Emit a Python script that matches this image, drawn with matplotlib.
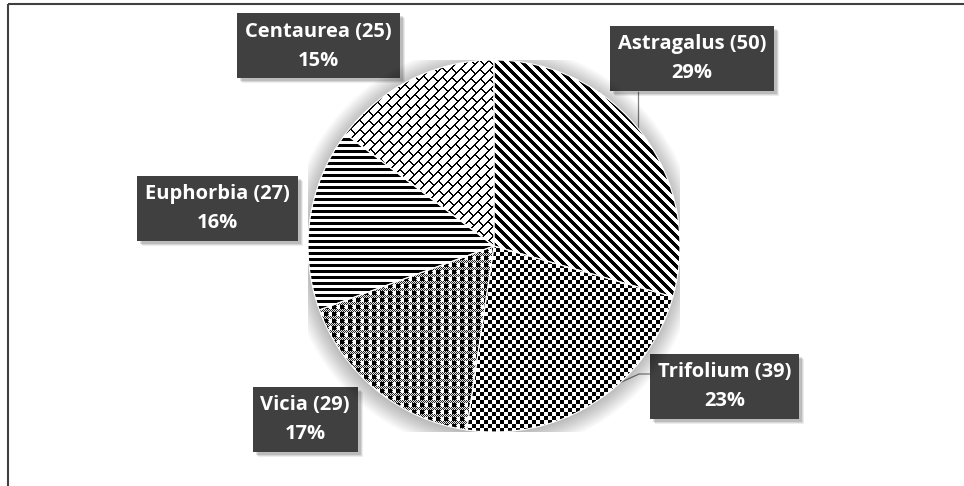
import numpy as np
import matplotlib
matplotlib.use("Agg")
import matplotlib.pyplot as plt
from matplotlib.patches import Circle, Rectangle

# Genus counts (clockwise from 12 o'clock)
genera = ["Astragalus", "Trifolium", "Vicia", "Euphorbia", "Centaurea"]
counts = [50, 39, 29, 27, 25]

# label box anchor in figure pixels: (x, y-centre, which side x refers to)
box_anchor = [(610, 59, "left"), (650, 386, "left"), (358, 419, "right"),
              (137, 208, "left"), (237, 46, "left")]

W, H = 964, 486
fig = plt.figure(figsize=(W / 100, H / 100), dpi=100)
fig.patch.set_facecolor("white")

# overlay axes in pixel coords for frame, boxes, leaders
ov = fig.add_axes([0, 0, 1, 1])
ov.set_xlim(0, W)
ov.set_ylim(H, 0)
ov.axis("off")

# pie axes: centre (494, 246), radius 186 px
cx, cy, R = 494, 246, 186
pax = fig.add_axes([(cx - R) / W, (H - cy - R) / H, 2 * R / W, 2 * R / H])
pax.axis("off")

# soft shadow behind pie
for k in range(12):
    pax.add_patch(Circle((-0.004, -0.012), 1.0 + 0.009 * k, facecolor="black",
                         edgecolor="none", alpha=0.022, zorder=0))
pax.add_patch(Circle((0, 0), 1.0, facecolor="white", edgecolor="none", zorder=1))

wedges, _ = pax.pie(counts, startangle=90, counterclock=False, radius=1.0,
                    wedgeprops=dict(facecolor="none", edgecolor="white", linewidth=0.8))

# fill patterns (pixel textures)
n = 2 * R
i, j = np.indices((n, n))


def diag_stripes():
    return np.where(((j - i) % 10) < 5, 0.0, 1.0)


def checker():
    return np.where(((i // 4 + j // 4) % 2) == 0, 0.0, 1.0)


def grid_checker():
    fine = np.where(((i + j) % 2) == 0, 0.15, 0.9)
    jm = j % 8
    top = np.where(jm < 4, 0.0, np.where(jm == 4, fine, 1.0))
    return np.where((i % 7) < 4, top, fine)


def hstripes():
    return np.where((i % 6) < 3, 0.0, 1.0)


def bricks():
    s = i + j
    row = s // 10
    line = (s % 10) < 2
    v = (j - i) + (row % 2) * 9
    mortar = (v % 18) < 2
    return np.where(line | mortar, 0.0, 1.0)


patterns = [diag_stripes(), checker(), grid_checker(), hstripes(), bricks()]
for w, pat in zip(wedges, patterns):
    w.set_zorder(3)
    im = pax.imshow(pat, cmap="gray", vmin=0, vmax=1, extent=(-1, 1, -1, 1),
                    interpolation="nearest", origin="upper", zorder=2)
    im.set_clip_path(w)
pax.set_xlim(-1, 1)
pax.set_ylim(-1, 1)

# frame lines (top and left)
ov.plot([7.5, W], [4.5, 4.5], color="#404040", lw=1.5, solid_capstyle="butt")
ov.plot([7.5, 7.5], [4.5, H], color="#404040", lw=1.5, solid_capstyle="butt")

# leader lines
ov.plot([638, 638], [92, 131], color="#808080", lw=0.9)
ov.plot([650, 639, 617], [374, 374, 384], color="#808080", lw=0.9)

total = sum(counts)
renderer = fig.canvas.get_renderer()
for name, c, (ax_, ay, side) in zip(genera, counts, box_anchor):
    pct = round(100 * c / total)
    t = ov.text(0, ay, f"{name} ({c})\n{pct}%", ha="center", va="center",
                color="white", fontsize=14.5, fontweight="bold", family="Open Sans",
                linespacing=1.6, zorder=6)
    tw = t.get_window_extent(renderer).width
    bw, bh = tw + 16, 65
    x0 = ax_ if side == "left" else ax_ - bw
    t.set_x(x0 + bw / 2)
    for d, a in [(5, 0.07), (4, 0.09), (3, 0.12)]:
        ov.add_patch(Rectangle((x0 + d, ay - bh / 2 + d), bw, bh, facecolor="black",
                               edgecolor="none", alpha=a, zorder=4))
    ov.add_patch(Rectangle((x0, ay - bh / 2), bw, bh, facecolor="#404040",
                           edgecolor="none", zorder=5))

fig.savefig("out.png", dpi=100, facecolor="white")
